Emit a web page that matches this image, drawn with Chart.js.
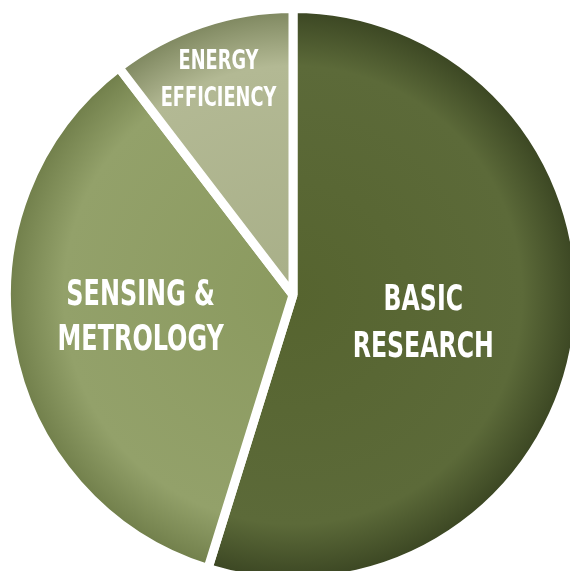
<!DOCTYPE html>
<html>
<head>
<meta charset="utf-8">
<script src="https://cdn.jsdelivr.net/npm/chart.js@4.4.1/dist/chart.umd.min.js"></script>
<style>
    html, body { margin: 0; padding: 0; background: #fff; overflow: hidden; width: 570px; height: 571px; }
    #grafico { position: absolute; left: 0; top: 0; }
</style>
</head>
<body>
<canvas id="grafico" width="600" height="600"></canvas>
<script>
const categorias = ['BASIC RESEARCH', 'SENSING & METROLOGY', 'ENERGY EFFICIENCY'];
const linhasRotulo = [['BASIC', 'RESEARCH'], ['SENSING &', 'METROLOGY'], ['ENERGY', 'EFFICIENCY']];
const participacao = [54.8, 34.8, 10.4];

// inner / body / rim colours of each slice
const coresFatia = [
    ['#56642f', '#5c6a39', '#3a4522'],
    ['#8b9a5f', '#93a16a', '#707e4a'],
    ['#a8af88', '#b3b994', '#7d865e']
];

// where and how each label is written
const estiloRotulo = [
    { dist: 0.46, dy: 10, size: 35, gap: 47, scaleX: 0.75 },
    { dist: 0.54, dy: -4, size: 35, gap: 45, scaleX: 0.76 },
    { dist: 0.81, dy: 6, size: 26, gap: 37, scaleX: 0.76 }
];

const RAIO = 286.5;

function corGradiente(context) {
    const chart = context.chart;
    const area = chart.chartArea;
    const cores = coresFatia[context.dataIndex];
    if (!area) return cores[1];
    const cx = (area.left + area.right) / 2;
    const cy = (area.top + area.bottom) / 2;
    const g = chart.ctx.createRadialGradient(cx, cy, 0, cx, cy, RAIO);
    g.addColorStop(0, cores[0]);
    g.addColorStop(0.8, cores[1]);
    g.addColorStop(1, cores[2]);
    return g;
}

const rotulosPlugin = {
    id: 'rotulos',
    afterDatasetsDraw(chart) {
        const ctx = chart.ctx;
        const meta = chart.getDatasetMeta(0);
        meta.data.forEach((arc, i) => {
            const p = arc.getProps(['x', 'y', 'startAngle', 'endAngle', 'outerRadius'], true);
            const meio = (p.startAngle + p.endAngle) / 2;
            const est = estiloRotulo[i];
            const r = p.outerRadius * est.dist;
            const px = p.x + Math.cos(meio) * r;
            const py = p.y + Math.sin(meio) * r + est.dy;
            const linhas = linhasRotulo[i];
            ctx.save();
            ctx.fillStyle = '#ffffff';
            ctx.font = 'bold ' + est.size + 'px "DejaVu Sans Condensed", "DejaVu Sans", sans-serif';
            ctx.textAlign = 'center';
            ctx.textBaseline = 'middle';
            linhas.forEach((txt, j) => {
                const ly = py + (j - (linhas.length - 1) / 2) * est.gap;
                ctx.save();
                ctx.translate(px, ly);
                ctx.scale(est.scaleX, 1);
                ctx.fillText(txt, 0, 0);
                ctx.restore();
            });
            ctx.restore();
        });
    }
};

const grafico = new Chart(document.getElementById('grafico').getContext('2d'), {
    type: 'pie',
    data: {
        labels: categorias,
        datasets: [{
            data: participacao,
            backgroundColor: corGradiente,
            borderColor: '#ffffff',
            borderWidth: 9
        }]
    },
    options: {
        responsive: false,
        animation: false,
        events: [],
        radius: RAIO,
        layout: { padding: { left: 0, right: 14, top: 0, bottom: 10 } },
        plugins: {
            legend: { display: false },
            tooltip: { enabled: false }
        }
    },
    plugins: [rotulosPlugin]
});
</script>
</body>
</html>
